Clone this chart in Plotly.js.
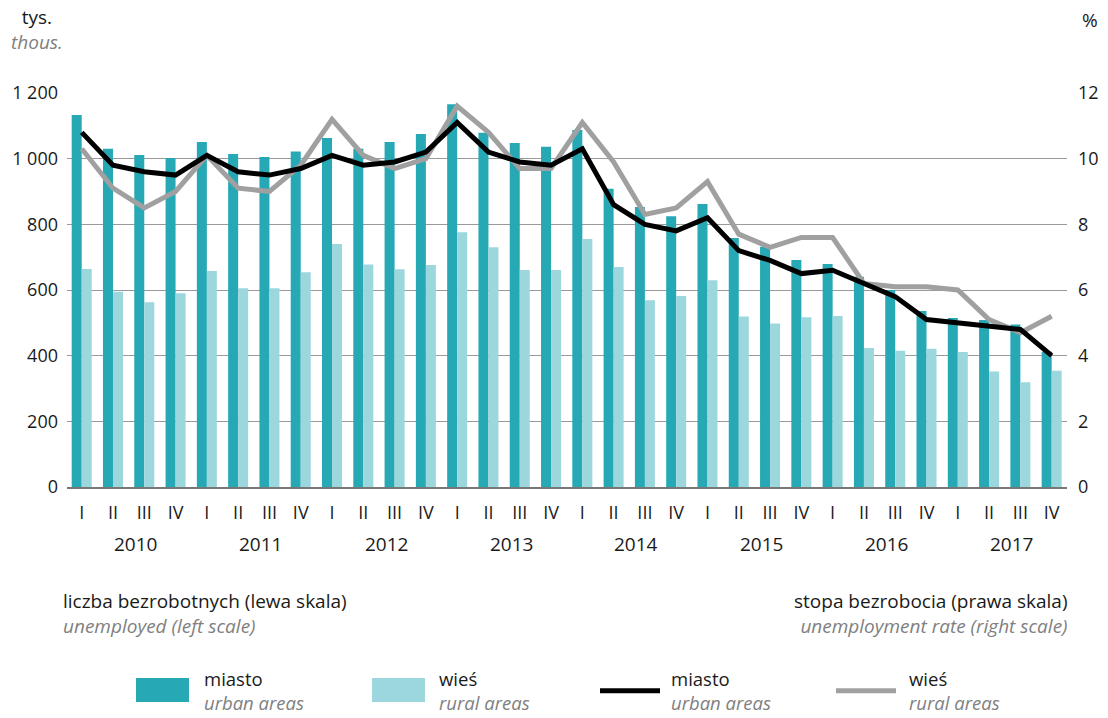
<!DOCTYPE html>
<html>
<head>
<meta charset="utf-8">
<script src="https://cdn.plot.ly/plotly-3.0.1.min.js"></script>
<style>
  body { margin: 0; background: #fff; }
  #plot { width: 1108px; height: 718px; }
</style>
</head>
<body>
<div id="plot"></div>
<script>
let years = [2010, 2011, 2012, 2013, 2014, 2015, 2016, 2017];
let quarters = ['I', 'II', 'III', 'IV'];

// liczba bezrobotnych, tys. (lewa skala)
let urbanCount = [1133, 1030, 1011, 1002, 1051, 1014, 1005, 1022,
                  1063, 1030, 1051, 1075, 1166, 1079, 1048, 1036,
                  1087, 908, 853, 825, 862, 758, 732, 691,
                  679, 640, 600, 536, 515, 509, 495, 412];
let ruralCount = [664, 595, 563, 590, 658, 605, 605, 654,
                  740, 678, 663, 676, 776, 730, 661, 661,
                  755, 670, 569, 582, 630, 519, 498, 517,
                  521, 423, 415, 421, 411, 352, 319, 354];

// stopa bezrobocia, % (prawa skala)
let urbanRate = [10.8, 9.8, 9.6, 9.5, 10.1, 9.6, 9.5, 9.7,
                 10.1, 9.8, 9.9, 10.2, 11.1, 10.2, 9.9, 9.8,
                 10.3, 8.6, 8.0, 7.8, 8.2, 7.2, 6.9, 6.5,
                 6.6, 6.2, 5.8, 5.1, 5.0, 4.9, 4.8, 4.0];
let ruralRate = [10.3, 9.1, 8.5, 9.0, 10.1, 9.1, 9.0, 9.8,
                 11.2, 10.1, 9.7, 10.0, 11.6, 10.8, 9.7, 9.7,
                 11.1, 9.9, 8.3, 8.5, 9.3, 7.7, 7.3, 7.6,
                 7.6, 6.2, 6.1, 6.1, 6.0, 5.1, 4.7, 5.2];

let categories = [];
let tickText = [];
for (var i = 0; i < years.length; i++)
{
    for (var j = 0; j < quarters.length; j++)
    {
        categories.push(years[i] + ' ' + quarters[j]);
        tickText.push(quarters[j]);
    }
}

let font = 'Open Sans, Noto Sans, sans-serif';
let teal = '#26a9b5';
let lightTeal = '#9dd7de';
let grey = '#a0a0a0';
let italicGrey = '#808080';

let urbanBars = {
    x: categories, y: urbanCount, name: 'miasto', type: 'bar',
    marker: { color: teal, line: { width: 0 } }
};
let ruralBars = {
    x: categories, y: ruralCount, name: 'wieś', type: 'bar',
    marker: { color: lightTeal, line: { width: 0 } }
};
let urbanLine = {
    x: categories, y: urbanRate, name: 'miasto', type: 'scatter', mode: 'lines',
    yaxis: 'y2', line: { color: '#000000', width: 5 }
};
let ruralLine = {
    x: categories, y: ruralRate, name: 'wieś', type: 'scatter', mode: 'lines',
    yaxis: 'y2', line: { color: grey, width: 5 }
};

let data = [urbanBars, ruralBars, ruralLine, urbanLine];

// year labels under the quarters
let annotations = [];
for (var k = 0; k < years.length; k++)
{
    annotations.push({
        x: 4 * k + 1.73, y: -0.145, xref: 'x', yref: 'paper',
        text: String(years[k]), showarrow: false,
        font: { size: 19, color: '#1a1a1a' }, xanchor: 'center', yanchor: 'middle'
    });
}

// two-line note: polish text on top, english in grey italics below
function note(x, y, pl, en, anchor, size)
{
    annotations.push({
        x: x, y: y, xref: 'paper', yref: 'paper', showarrow: false,
        text: pl + '<br><i><span style="color:' + italicGrey + '">' + en + '</span></i>',
        xanchor: anchor, yanchor: 'middle', align: anchor,
        font: { size: size, color: '#1a1a1a' }
    });
}

note(-0.030, 1.160, 'tys.', 'thous.', 'center', 19);
note(-0.006, -0.321, 'liczba bezrobotnych (lewa skala)', 'unemployed (left scale)', 'left', 19);
note(1.003, -0.321, 'stopa bezrobocia (prawa skala)', 'unemployment rate (right scale)', 'right', 19);
annotations.push({
    x: 1.013, y: 1.185, xref: 'paper', yref: 'paper', showarrow: false,
    text: '%', xanchor: 'left', yanchor: 'middle', font: { size: 19, color: '#1a1a1a' }
});

// legend entries
let legendItems = [
    { x: 0.135, label: 'miasto', sub: 'urban areas' },
    { x: 0.370, label: 'wieś', sub: 'rural areas' },
    { x: 0.602, label: 'miasto', sub: 'urban areas' },
    { x: 0.840, label: 'wieś', sub: 'rural areas' }
];
legendItems.forEach(function (item) {
    note(item.x, -0.516, item.label, item.sub, 'left', 18.5);
});

let shapes = [
    { type: 'rect', xref: 'paper', yref: 'paper', x0: 0.069, x1: 0.122, y0: -0.546, y1: -0.485,
      fillcolor: teal, line: { width: 0 } },
    { type: 'rect', xref: 'paper', yref: 'paper', x0: 0.305, x1: 0.358, y0: -0.546, y1: -0.485,
      fillcolor: lightTeal, line: { width: 0 } },
    { type: 'line', xref: 'paper', yref: 'paper', x0: 0.533, x1: 0.593, y0: -0.517, y1: -0.517,
      line: { color: '#000000', width: 5 } },
    { type: 'line', xref: 'paper', yref: 'paper', x0: 0.769, x1: 0.829, y0: -0.517, y1: -0.517,
      line: { color: grey, width: 5 } }
];

let layout = {
    width: 1108,
    height: 718,
    margin: { l: 67, r: 41, t: 93, b: 231, pad: 0 },
    paper_bgcolor: '#ffffff',
    plot_bgcolor: '#ffffff',
    font: { family: font, size: 18, color: '#1a1a1a' },
    separators: ', ',
    showlegend: false,
    barmode: 'group',
    bargap: 0.36,
    bargroupgap: 0,
    xaxis: {
        type: 'category',
        range: [-0.47, 31.49],
        tickvals: categories,
        ticktext: tickText,
        showgrid: false,
        ticks: '',
        ticklabelstandoff: 9,
        showline: true,
        linecolor: '#777777',
        linewidth: 1.5,
        tickfont: { size: 18 }
    },
    yaxis: {
        range: [0, 1200],
        tickvals: [0, 200, 400, 600, 800, 1000, 1200],
        tickformat: ',d',
        gridcolor: '#9a9a9a',
        gridwidth: 1,
        zeroline: false,
        showline: false,
        ticks: '',
        ticklabelstandoff: 8,
        tickfont: { size: 18 }
    },
    yaxis2: {
        overlaying: 'y',
        side: 'right',
        range: [0, 12],
        tickvals: [0, 2, 4, 6, 8, 10, 12],
        showgrid: false,
        zeroline: false,
        showline: false,
        ticks: '',
        ticklabelstandoff: 10,
        tickfont: { size: 18 }
    },
    annotations: annotations,
    shapes: shapes
};

Plotly.newPlot('plot', data, layout, { displayModeBar: false, staticPlot: true });
</script>
</body>
</html>
